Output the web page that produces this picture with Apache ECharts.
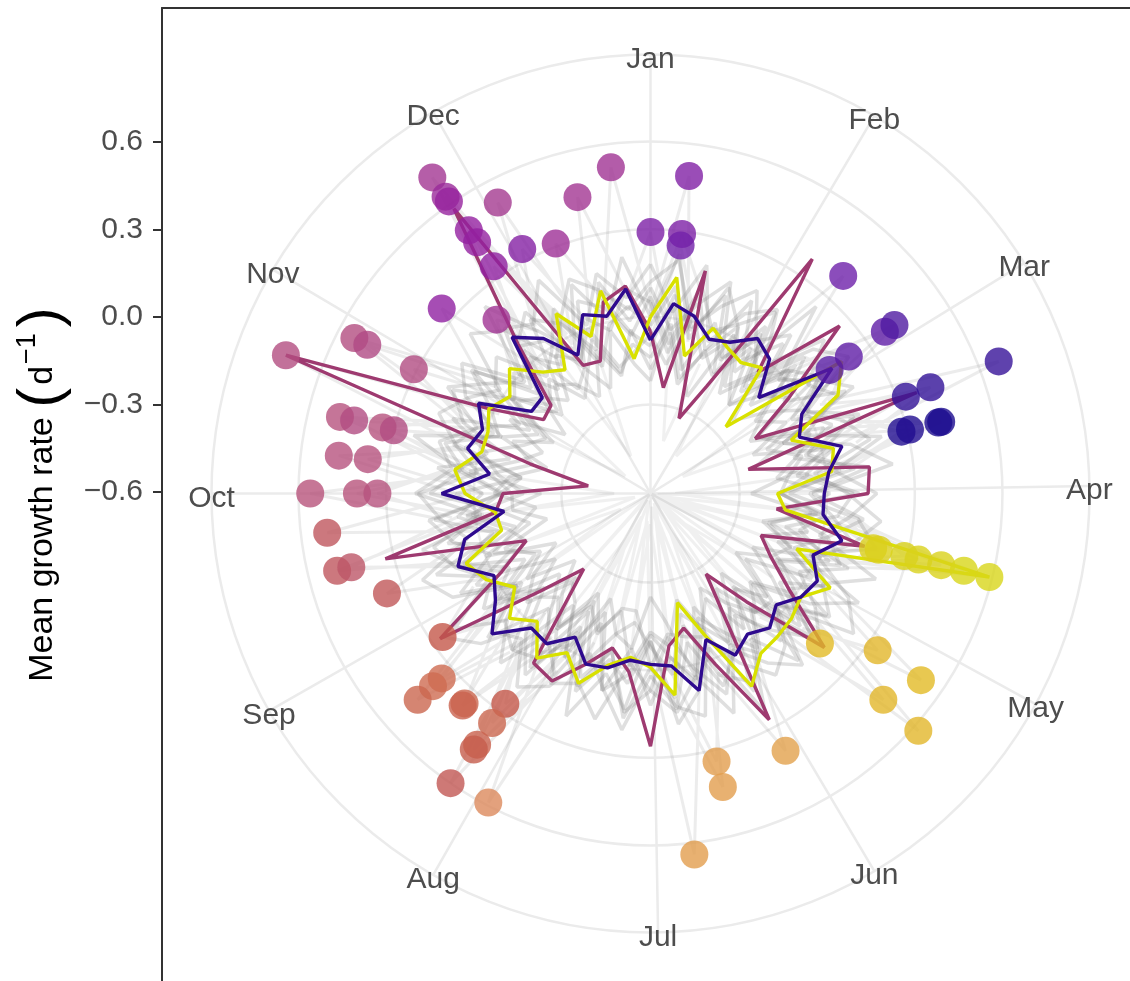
<!DOCTYPE html>
<html><head><meta charset="utf-8">
<script src="https://cdn.jsdelivr.net/npm/echarts@6/dist/echarts.min.js"></script>
<style>html,body{margin:0;padding:0;background:#fff}#c{width:1130px;height:981px}</style>
</head><body><div id="c"></div>
<script>
// ---------- data ----------
const monthLabels = ['Jan','Feb','Mar','Apr','May','Jun','Jul','Aug','Sep','Oct','Nov','Dec'];
const monthStartDays = [0,31,59,90,120,151,181,212,243,273,304,334];
const radiusGridValues = [-0.3, 0, 0.3, 0.6];
const yTickValues = [-0.6, -0.3, 0, 0.3, 0.6];
const weeks = [0,1,2,3,4,5,6,7,8,9,10,11,12,13,14,15,16,17,18,19,20,21,22,23,24,25,26,27,28,29,30,31,32,33,34,35,36,37,38,39,40,41,42,43,44,45,46,47,48,49,50,51];

const lineMagenta = [-0.05,-0.24,0.18,-0.33,-0.19,0.37,-0.05,0.26,-0.03,-0.20,
  0.37,-0.26,0.15,0.14,-0.17,0.15,-0.20,-0.14,-0.03,0.19,
  -0.11,-0.27,0.27,0.02,-0.13,-0.08,0.26,0.01,-0.06,0.02,
  0.12,0.10,-0.26,-0.10,0.27,-0.03,-0.15,0.33,-0.07,-0.10,
  -0.39,-0.18,0.73,0.02,-0.16,-0.15,0.08,0.58,-0.11,-0.12,
  0.07,0.11];
const lineYellow = [0.00,0.14,-0.12,0.00,-0.04,-0.06,-0.03,-0.26,0.19,0.12,
  -0.09,0.04,0.02,-0.17,-0.14,0.59,-0.07,0.09,0.02,0.04,
  0.05,0.06,0.14,-0.09,-0.22,0.09,-0.01,-0.04,0.00,0.09,
  0.01,0.08,-0.02,0.04,-0.04,0.03,0.07,-0.08,-0.07,0.03,
  0.07,-0.01,-0.01,0.02,-0.02,0.04,-0.05,-0.09,0.09,-0.03,
  0.11,-0.14];
const lineIndigo = [-0.08,0.05,0.02,-0.04,-0.02,0.04,0.01,-0.11,0.15,-0.02,
  -0.06,0.07,0.01,-0.01,-0.01,0.07,-0.01,0.04,0.02,-0.03,
  0.01,-0.02,0.02,-0.07,0.09,-0.01,-0.02,-0.03,0.01,0.02,
  -0.05,0.02,0.01,0.12,0.04,0.00,0.10,0.05,-0.10,0.11,
  -0.05,0.04,0.01,0.06,-0.11,-0.11,0.11,0.04,-0.07,0.05,
  0.02,0.10];

const gray1 = [0.05,-0.12,0.10,-0.08,0.14,-0.05,0.08,-0.15,0.12,-0.02,0.06,-0.10,0.15,-0.06,0.02,0.11,-0.14,0.07,-0.03,0.13,-0.09,0.04,0.16,-0.11,0.05,-0.04,0.12,-0.07,0.09,-0.13,0.10,0.01,-0.08,0.14,-0.05,0.07,-0.12,0.11,-0.02,0.06,-0.16,0.09,0.03,-0.10,0.13,-0.06,0.08,0.15,-0.09,0.04,-0.03,0.10];
const gray2 = [-0.10,0.08,-0.03,0.12,-0.14,0.06,-0.09,0.10,-0.05,0.15,-0.12,0.04,-0.07,0.11,-0.16,0.02,0.09,-0.11,0.13,-0.04,0.07,-0.13,0.01,0.10,-0.08,0.14,-0.10,0.05,-0.02,0.12,-0.15,0.08,0.11,-0.06,0.03,-0.12,0.09,-0.05,0.14,-0.09,0.06,-0.03,0.12,-0.14,0.04,0.10,-0.07,-0.01,0.11,-0.12,0.08,-0.05];
const gray3 = [0.18,0.02,0.20,-0.05,0.09,0.16,-0.02,0.19,0.05,0.12,-0.04,0.21,0.03,0.17,0.08,-0.01,0.22,0.06,0.14,-0.03,0.18,0.10,0.00,0.20,0.04,0.15,0.07,-0.02,0.19,0.09,0.13,-0.04,0.17,0.05,0.21,0.02,0.11,0.16,-0.01,0.20,0.08,0.14,0.03,0.18,0.06,-0.03,0.15,0.10,0.22,0.01,0.17,0.07];
const gray4 = [-0.18,-0.05,-0.22,-0.08,-0.15,0.00,-0.20,-0.10,-0.03,-0.19,-0.12,-0.24,-0.06,-0.16,-0.02,-0.21,-0.09,-0.14,-0.25,-0.07,-0.17,-0.04,-0.20,-0.11,-0.23,-0.08,-0.13,-0.01,-0.19,-0.10,-0.22,-0.05,-0.15,-0.26,-0.09,-0.18,-0.03,-0.14,-0.21,-0.07,-0.12,-0.24,-0.06,-0.17,-0.02,-0.20,-0.11,-0.15,-0.23,-0.08,-0.19,-0.04];
const gray5 = [0.00,0.22,-0.06,0.15,0.04,-0.10,0.25,-0.02,0.08,0.18,-0.12,0.10,0.23,-0.05,0.13,0.02,-0.08,0.20,0.06,-0.14,0.16,0.00,0.24,-0.04,0.09,0.19,-0.10,0.14,0.03,0.21,-0.07,0.12,-0.01,0.17,0.26,-0.03,0.10,0.20,-0.09,0.15,0.05,0.23,-0.06,0.11,0.18,-0.02,0.25,0.07,-0.05,0.16,0.01,0.21];
const gray6 = [-0.22,0.04,-0.15,-0.25,0.01,-0.12,-0.20,0.06,-0.17,-0.08,-0.23,0.03,-0.14,-0.26,-0.05,-0.18,0.02,-0.21,-0.10,0.05,-0.24,-0.13,-0.02,-0.19,0.04,-0.16,-0.25,-0.07,-0.11,-0.22,0.03,-0.15,-0.20,-0.04,-0.12,-0.24,0.00,-0.18,-0.09,-0.23,0.02,-0.14,-0.21,-0.06,-0.25,-0.10,0.05,-0.17,-0.12,-0.22,-0.03,-0.16];
const gray7 = [0.10,-0.04,0.06,0.17,-0.08,0.03,0.12,-0.11,0.09,0.00,0.16,-0.06,0.05,-0.13,0.11,0.19,-0.02,0.08,-0.07,0.14,0.02,-0.10,0.12,0.06,-0.14,0.10,-0.01,0.17,-0.05,0.07,-0.09,0.15,0.04,-0.12,0.09,0.01,0.18,-0.07,0.06,-0.03,0.13,-0.11,0.08,0.16,-0.04,0.02,-0.13,0.12,0.05,-0.08,0.14,-0.01];
const gray8 = [-0.06,-0.16,0.02,-0.11,-0.01,-0.19,-0.07,0.03,-0.14,-0.22,-0.02,-0.09,-0.17,0.01,-0.12,-0.05,-0.20,-0.10,0.00,-0.15,-0.06,-0.21,-0.03,-0.12,-0.18,0.02,-0.08,-0.16,-0.11,0.01,-0.19,-0.04,-0.13,-0.07,-0.21,-0.02,-0.15,-0.10,0.03,-0.17,-0.08,-0.01,-0.14,-0.20,-0.05,-0.11,-0.18,-0.03,-0.09,0.00,-0.16,-0.12];
const gray9 = [0.12,0.20,-0.02,0.08,0.18,0.03,-0.06,0.14,0.22,0.00,0.10,0.17,-0.04,0.07,0.19,0.11,0.01,0.16,0.24,-0.03,0.09,0.15,0.05,-0.07,0.18,0.13,0.02,0.21,0.08,-0.02,0.14,0.20,0.06,0.11,-0.05,0.16,0.23,0.04,0.12,0.19,-0.01,0.08,0.17,0.10,0.02,0.22,0.14,-0.04,0.06,0.18,0.11,0.03];
const gray10 = [-0.14,-0.02,-0.20,-0.09,0.04,-0.16,-0.05,-0.23,-0.11,0.01,-0.18,-0.07,-0.13,-0.16,-0.03,-0.19,-0.10,0.02,-0.21,-0.05,-0.06,-0.15,-0.24,-0.08,-0.10,-0.12,-0.01,-0.20,-0.20,-0.09,-0.17,-0.04,-0.22,-0.11,0.00,-0.16,-0.07,-0.24,-0.13,-0.13,-0.05,-0.19,-0.10,-0.23,-0.02,-0.15,-0.08,-0.21,-0.14,-0.04,-0.18,-0.09];
const gray11 = [0.07,-0.09,0.13,-0.01,0.05,0.15,-0.12,0.03,0.10,-0.06,0.14,0.00,-0.10,0.09,0.04,-0.13,0.12,-0.03,0.08,0.17,-0.08,0.06,-0.02,0.13,0.01,-0.11,0.07,0.15,-0.05,0.10,0.02,-0.14,0.11,0.06,-0.07,0.13,-0.02,0.09,0.16,-0.10,0.04,0.12,-0.05,0.01,0.14,-0.09,0.07,0.03,-0.12,0.10,0.05,-0.06];
const gray12 = [-0.03,0.11,-0.17,0.02,-0.09,0.09,-0.14,-0.01,0.06,-0.20,0.03,-0.05,0.10,-0.16,0.00,-0.08,0.05,-0.12,-0.03,0.08,-0.18,0.04,-0.07,-0.15,0.07,-0.04,-0.12,0.02,0.09,-0.17,-0.02,0.06,-0.10,-0.19,0.04,-0.06,0.08,-0.13,0.01,-0.09,-0.16,0.05,-0.03,0.07,-0.11,-0.18,0.02,-0.07,0.06,-0.14,-0.01,0.04];

// deep inward dips of single faint series: week, value, values of the weeks before/after
const dipWeek = [14,20,33,44,5,17,23,29,9,15,21,26,37,13,19,24,28,39,16,18,22,25,27,30,31,35,2,48];
const dipValue = [-0.58,-0.55,-0.60,-0.50,-0.45,-0.60,-0.57,-0.52,-0.48,-0.56,-0.59,-0.50,-0.55,-0.52,-0.45,-0.54,-0.58,-0.48,-0.53,-0.60,-0.47,-0.56,-0.51,-0.44,-0.58,-0.49,-0.42,-0.46];
const dipBefore = [-0.06,-0.07,-0.15,-0.17,0.01,0.02,-0.02,-0.11,-0.14,-0.12,-0.06,0.02,-0.15,0.01,-0.15,-0.08,-0.01,-0.13,-0.05,0.00,-0.10,-0.04,0.03,-0.09,-0.12,0.02,-0.08,-0.03];
const dipAfter = [-0.21,-0.04,-0.09,-0.20,-0.20,-0.10,0.04,0.03,-0.02,-0.20,-0.03,-0.16,0.03,-0.03,-0.06,-0.12,0.01,-0.05,-0.14,-0.07,0.02,-0.11,-0.06,-0.15,0.00,-0.09,-0.13,-0.10];

// peak points (one per series): week, value, colour value (0..1 on the colour scale)
const dotWeek = [47,47,47,48,50,51,1,47,47,47,48,49,0,1,1,45,46,6,8,8,8,8,10,10,10,11,11,11,11,15,15,15,15,15,15,15,19,18,18,19,19,24,24,22,25,34,33,33,33,32,32,31,31,31,31,31,30,42,43,43,43,41,41,41,41,40,40,39,39,39,38,37,37,36];
const dotValue = [0.71,0.63,0.61,0.52,0.44,0.52,0.49,0.49,0.44,0.34,0.34,0.31,0.29,0.29,0.25,0.35,0.19,0.39,0.37,0.41,0.22,0.14,0.67,0.42,0.33,0.28,0.31,0.41,0.42,0.18,0.20,0.29,0.34,0.42,0.50,0.59,0.17,0.34,0.52,0.46,0.62,0.34,0.43,0.39,0.64,0.26,0.35,0.39,0.46,0.355,0.365,0.27,0.35,0.44,0.46,0.60,0.59,0.73,0.54,0.49,0.31,0.49,0.44,0.34,0.30,0.47,0.37,0.56,0.40,0.33,0.51,0.50,0.45,0.36];
const dotColour = [0.37,0.33,0.31,0.38,0.37,0.36,0.25,0.30,0.30,0.29,0.26,0.35,0.24,0.24,0.21,0.29,0.36,0.20,0.16,0.12,0.16,0.14,0.07,0.06,0.06,0.03,0.03,0.02,0.02,0.96,0.96,0.97,0.97,0.97,0.98,0.98,0.89,0.88,0.89,0.88,0.88,0.78,0.78,0.79,0.78,0.60,0.64,0.64,0.63,0.63,0.62,0.60,0.63,0.62,0.61,0.58,0.70,0.47,0.47,0.45,0.46,0.49,0.46,0.49,0.46,0.49,0.49,0.50,0.50,0.49,0.56,0.56,0.54,0.57];
// neighbouring weekly values of the faint series that end in each peak
const spikeBefore = [0.05,-0.02,0.08,0.10,-0.04,0.06,0.02,0.12,-0.06,0.04,0.09,-0.03,0.07,0.00,-0.08,0.11,0.03,-0.05,0.06,0.01,-0.02,0.10,0.08,-0.04,0.05,0.12,-0.07,0.02,0.09,-0.01,0.06,0.11,-0.03,0.04,0.07,-0.06,0.00,0.03,0.10,-0.02,0.08,0.05,-0.05,0.01,0.09,0.04,-0.03,0.07,0.12,-0.01,0.06,0.02,-0.04,0.10,0.03,0.08,-0.06,0.05,0.11,-0.02,0.07,0.00,0.09,-0.05,0.04,0.06,-0.03,0.12,0.01,0.08,-0.07,0.05,0.10,0.02];
const spikeAfter = [-0.03,0.06,0.01,-0.05,0.09,0.03,-0.07,0.05,0.10,-0.02,0.04,0.08,-0.06,0.11,0.02,-0.04,0.07,0.00,-0.08,0.06,0.09,-0.01,0.03,0.12,-0.05,0.05,0.08,-0.03,0.01,0.10,-0.06,0.04,0.07,-0.02,0.11,0.03,-0.04,0.09,0.00,0.06,-0.07,0.02,0.10,0.05,-0.03,0.08,0.01,-0.05,0.04,0.12,-0.01,0.07,0.03,-0.06,0.09,0.00,0.05,-0.02,0.11,0.04,-0.04,0.08,0.02,0.10,-0.06,0.03,0.07,-0.01,0.05,0.09,0.01,-0.03,0.06,0.04];

// ---------- styling helpers ----------
const FONT = "'Liberation Sans', Arial, sans-serif";
const colourStops = ['#10088a','#48189f','#6e20aa','#9420a0','#a8408c','#b8547c','#c4584a','#dc8a5c','#e3a34a','#e2bc22','#d6dc18'];
function hex2rgb(h){return [parseInt(h.slice(1,3),16),parseInt(h.slice(3,5),16),parseInt(h.slice(5,7),16)];}
function colourScale(t){
  t = Math.max(0, Math.min(1, t));
  const p = t*(colourStops.length-1), i = Math.min(Math.floor(p), colourStops.length-2), f = p-i;
  const a = hex2rgb(colourStops[i]), b = hex2rgb(colourStops[i+1]);
  return 'rgb(' + a.map((v,k)=>Math.round(v+(b[k]-v)*f)).join(',') + ')';
}
const NW = weeks.length; // 52 weeks around the circle
function loop(vals){ const d = weeks.map((w,i)=>[vals[i], w]); d.push([vals[0], NW]); return d; }
function segments(wk, val, before, after){
  const out = [];
  wk.forEach((w,i)=>{
    if (w === 0) out.push([before[i], NW-1], [val[i], NW], '-', [val[i], 0], [after[i], 1], '-');
    else out.push([before[i], w-1], [val[i], w], [after[i], w+1], '-');
  });
  return out;
}

const grayBand = [gray1,gray2,gray3,gray4,gray5,gray6,gray7,gray8,gray9,gray10,gray11,gray12];
const series = [];
grayBand.forEach(g => series.push({
  type:'line', coordinateSystem:'polar', data: loop(g), symbol:'none', silent:true, z:2,
  lineStyle:{color:'#8a8a8a', width:3.5, opacity:0.27}
}));
series.push({type:'line', coordinateSystem:'polar', data: segments(dipWeek, dipValue, dipBefore, dipAfter),
  symbol:'none', silent:true, z:2, connectNulls:false, lineStyle:{color:'#8a8a8a', width:3, opacity:0.13}});
series.push({type:'line', coordinateSystem:'polar', data: segments(dotWeek, dotValue, spikeBefore, spikeAfter),
  symbol:'none', silent:true, z:2, connectNulls:false, lineStyle:{color:'#8a8a8a', width:3, opacity:0.16}});

series.push({type:'line', coordinateSystem:'polar', data: loop(lineMagenta), symbol:'none', z:5,
  lineStyle:{color:'#9e3a70', width:3.4}});
series.push({type:'line', coordinateSystem:'polar', data: loop(lineYellow), symbol:'none', z:6,
  lineStyle:{color:'#d9e100', width:3.4}});
series.push({type:'line', coordinateSystem:'polar', data: loop(lineIndigo), symbol:'none', z:7,
  lineStyle:{color:'#2e0a8e', width:3.4}});

series.push({type:'scatter', coordinateSystem:'polar', z:8, symbolSize:28,
  data: dotWeek.map((w,i)=>({value:[dotValue[i], w], itemStyle:{color: colourScale(dotColour[i]), opacity:0.8}}))});

// month labels centred on the outer circle
const R_MAX = 0.898;
series.push({type:'scatter', coordinateSystem:'polar', z:9, symbolSize:2, silent:true,
  itemStyle:{color:'rgba(255,255,255,0)', opacity:1},
  data: monthStartDays.map((d,i)=>({value:[R_MAX, d/7], name: monthLabels[i]})),
  label:{show:true, position:'inside', offset:[0,5], opacity:1, formatter: p => p.name,
    fontSize:30, color:'#4d4d4d', fontFamily:FONT}
});

const option = {
  animation:false,
  backgroundColor:'#ffffff',
  textStyle:{fontFamily:FONT},
  polar:{center:[650.5, 493.5], radius:439},
  angleAxis:{type:'value', min:0, max:NW, startAngle:90, clockwise:true,
    axisLine:{show:true, lineStyle:{color:'#ebebeb', width:2.5}},
    axisTick:{show:false, customValues: monthStartDays.map(d=>d/7)},
    axisLabel:{show:false},
    splitLine:{show:true, lineStyle:{color:'#ebebeb', width:2.5}}},
  radiusAxis:{type:'value', min:-0.605, max:R_MAX,
    axisLine:{show:false}, axisTick:{show:false, customValues: radiusGridValues}, axisLabel:{show:false},
    splitLine:{show:true, lineStyle:{color:'#ebebeb', width:2.5}}},
  grid:{left:162, right:-20, top:8, bottom:0},
  xAxis:{type:'value', position:'top', min:0, max:1,
    axisLine:{show:true, onZero:false, lineStyle:{color:'#333333', width:2}},
    axisTick:{show:false}, axisLabel:{show:false}, splitLine:{show:false}},
  yAxis:{type:'value', min:-2.274, max:1.058,
    axisLine:{show:true, onZero:false, lineStyle:{color:'#333333', width:2}},
    axisTick:{show:true, length:9, lineStyle:{color:'#333333', width:2}, customValues: yTickValues},
    axisLabel:{customValues: yTickValues, margin:19, fontSize:30, color:'#4d4d4d', fontFamily:FONT,
      formatter: v => v.toFixed(1).replace('-', '\u2212')},
    splitLine:{show:false},
    name:'{t|Mean growth rate }{p|(}{d|d}{s|\u22121}{p|)}', nameLocation:'middle', nameRotate:90, nameGap:90,
    nameTextStyle:{fontFamily:FONT, rich:{
      t:{fontSize:34, color:'#000000', fontFamily:FONT, lineHeight:58},
      d:{fontSize:34, color:'#000000', fontFamily:FONT, lineHeight:58, padding:[0,1,0,3]},
      p:{fontSize:60, color:'#000000', fontFamily:FONT, lineHeight:58},
      s:{fontSize:27, color:'#000000', fontFamily:FONT, verticalAlign:'top', lineHeight:58, padding:[0,6,0,1]}}}},
  series: series
};
const chart = echarts.init(document.getElementById('c'), null, {renderer:'canvas'});
chart.setOption(option);
</script>
</body></html>
